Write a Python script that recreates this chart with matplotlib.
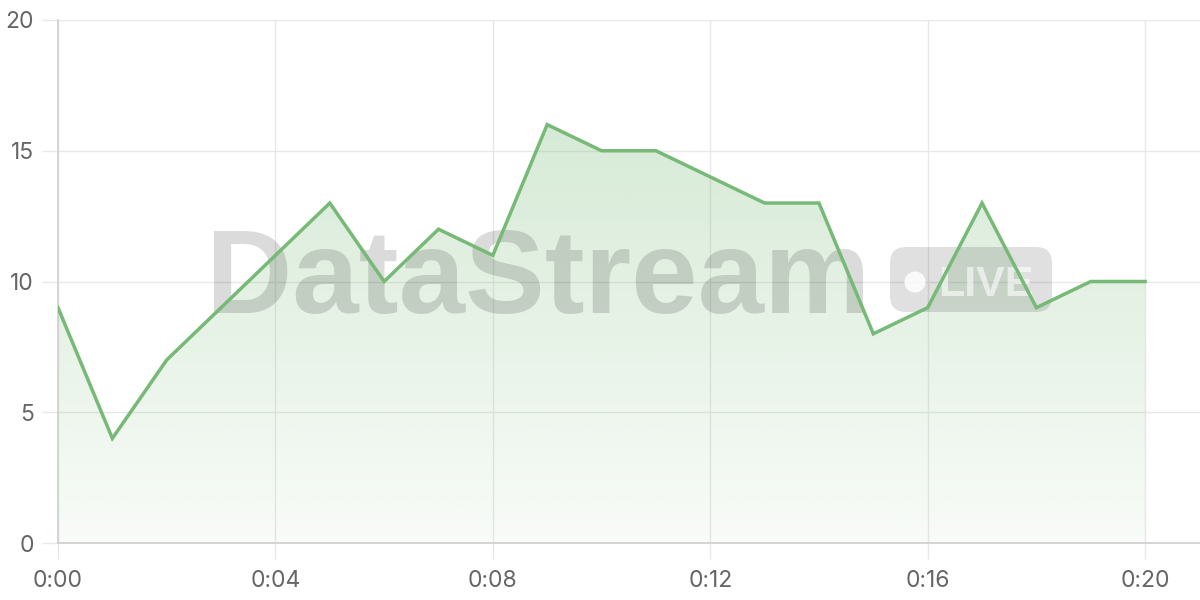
import numpy as np
import matplotlib
matplotlib.use("Agg")
import matplotlib.pyplot as plt
from matplotlib.patches import FancyBboxPatch, Circle, Polygon
from matplotlib.transforms import IdentityTransform

# ---- data ----
minutes = list(range(21))
values = [9, 4, 7, 9, 11, 13, 10, 12, 11, 16, 15, 15, 14, 13, 13, 8, 9, 13, 9, 10, 10]
xtick_minutes = [0, 4, 8, 12, 16, 20]
xtick_labels = ["0:00", "0:04", "0:08", "0:12", "0:16", "0:20"]
ytick_values = [0, 5, 10, 15, 20]
watermark_text = "DataStream"
badge_text = "LIVE"

line_color = "#77b977"
grid_color = "#e8e8e8"
spine_color = "#d2d2d2"
label_color = "#666666"

plt.rcParams['font.family'] = ['Inter', 'DejaVu Sans']

fig = plt.figure(figsize=(12, 6), dpi=100)
ax = fig.add_axes([58 / 1200, 57 / 600, 1 - 58 / 1200, (543 - 20) / 600])

# gradient fill under the line
x = np.array(minutes, dtype=float)
y = np.array(values, dtype=float)
ymax = y.max()
n = 256
alphas = np.linspace(0.05, 0.30, n)[:, None]
rgb = np.array(matplotlib.colors.to_rgb(line_color))
img = np.zeros((n, 1, 4))
img[..., :3] = rgb
img[..., 3] = alphas
im = ax.imshow(img, extent=[x.min(), x.max(), 0, ymax], origin='lower',
               aspect='auto', zorder=1, interpolation='bilinear')
verts = np.vstack([np.column_stack([x, y]), [[x.max(), 0], [x.min(), 0]]])
poly = Polygon(verts, closed=True, facecolor='none', edgecolor='none',
               transform=ax.transData)
ax.add_patch(poly)
im.set_clip_path(poly)
ax.set_xlim(0, 21.01)
ax.set_ylim(0, 20)

# line
ax.plot(x, y, color=line_color, lw=2.5, zorder=5, solid_joinstyle='miter')

# grid & ticks
ax.set_xticks(xtick_minutes)
ax.set_xticklabels(xtick_labels)
ax.set_yticks(ytick_values)
ax.set_yticklabels([str(v) for v in ytick_values])
ax.grid(True, color=grid_color, lw=1, zorder=0)
ax.set_axisbelow(True)
ax.tick_params(axis='both', colors=grid_color, labelcolor=label_color,
               labelsize=16.5, length=11.5, width=1)
ax.tick_params(axis='x', pad=8)
ax.tick_params(axis='y', pad=6)
for s in ['top', 'right']:
    ax.spines[s].set_visible(False)
for s in ['left', 'bottom']:
    ax.spines[s].set_color(spine_color)
    ax.spines[s].set_linewidth(1.3)

# watermark (pixel coordinates, drawn inside axes below the line)
idt = IdentityTransform()
ax.text(206, 600 - 313, watermark_text, fontsize=86, fontweight='heavy',
        color='black', alpha=0.14, ha='left', va='baseline', zorder=3,
        transform=idt, clip_on=False, family=['Liberation Sans', 'DejaVu Sans'])
badge = FancyBboxPatch((890, 600 - 312), 162, 65,
                       boxstyle="round,pad=0,rounding_size=16",
                       transform=idt, facecolor='black',
                       edgecolor='none', alpha=0.12, zorder=3, clip_on=False)
ax.add_artist(badge)
dot = Circle((915, 600 - 282), 10.5, transform=idt, facecolor='white',
             edgecolor='none', alpha=0.85, zorder=3.1, clip_on=False)
ax.add_artist(dot)
ax.text(938, 600 - 296, badge_text, fontsize=31, fontweight='bold',
        color='white', alpha=0.6, ha='left', va='baseline', zorder=3.1,
        transform=idt, clip_on=False,
        family=['Liberation Sans', 'DejaVu Sans'])

fig.savefig("out.png", dpi=100)
